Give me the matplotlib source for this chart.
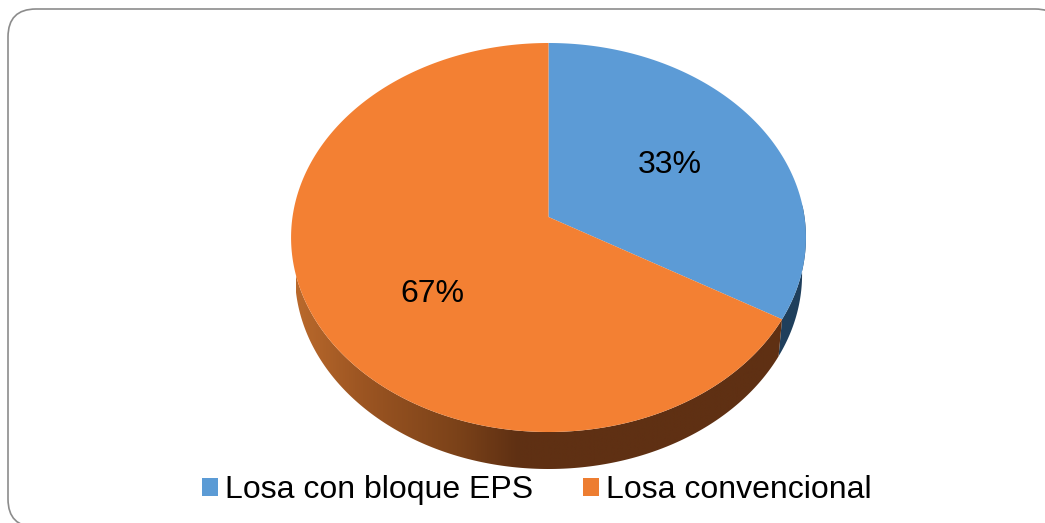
import matplotlib
matplotlib.use('Agg')
import matplotlib.pyplot as plt
from matplotlib.colors import LinearSegmentedColormap
from matplotlib.patches import FancyBboxPatch, Patch, Polygon
import numpy as np

categories = ['Losa con bloque EPS', 'Losa convencional']
values = [33.4, 66.6]
top_colors = ['#5c9bd6', '#f38033']
legend_colors = ['#5b9bd5', '#ed7d31']
label_pos = [(670, 165), (432, 294)]

plt.rcParams['font.family'] = ['Liberation Sans', 'DejaVu Sans']

# perspective of the pie disc, fitted to the picture in pixels
CX, APEX_Y, R = 548.5, 217.0, 256.0
K, A = 0.1054, -169.47
DEPTH, RIM_SCALE = 37.0, 0.985


def project(frac, dy=0.0, sx=1.0):
    t = 2 * np.pi * np.asarray(frac)
    u, v = np.sin(t), np.cos(t)
    w = 1 + K * v
    return np.column_stack([CX + sx * R * u / w, (A * v + APEX_Y) / w + dy])


def rim(f0, f1):
    f = np.linspace(f0, f1, 200)
    return np.vstack([project(f), project(f[::-1], dy=DEPTH, sx=RIM_SCALE)])


fig = plt.figure(figsize=(10.45, 5.23), dpi=100, facecolor='white')
ax = fig.add_axes([0, 0, 1, 1])
ax.set_xlim(0, 1045)
ax.set_ylim(523, 0)
ax.axis('off')

# chart frame, runs off the right and bottom of the picture
ax.add_patch(FancyBboxPatch((8, 9), 1055, 518, boxstyle='round,pad=0,rounding_size=28',
                            fc='white', ec='#8c8c8c', lw=1.2, zorder=0))

fracs = np.cumsum([0] + values) / sum(values)

# side wall
ax.add_patch(Polygon(rim(0.24, fracs[1]), closed=True, fc='#1f3f5c', ec='none', zorder=1))
side = Polygon(rim(fracs[1], 0.77), closed=True, fc='none', ec='none', zorder=2)
ax.add_patch(side)
cmap = LinearSegmentedColormap.from_list('side', [(0, '#b9692c'), (0.13, '#9c5522'),
                                                  (0.32, '#7b4219'), (0.44, '#5f3013'),
                                                  (1, '#5f3013')])
im = ax.imshow(np.linspace(0, 1, 512)[None, :], cmap=cmap, aspect='auto',
               extent=(296, 800, 480, 260), zorder=2)
im.set_clip_path(side)

# top face
for i, c in enumerate(top_colors):
    f = np.linspace(fracs[i], fracs[i + 1], 300)
    pts = np.vstack([[CX, APEX_Y], project(f)])
    ax.add_patch(Polygon(pts, closed=True, fc=c, ec='none', zorder=3))

for v, p in zip(values, label_pos):
    ax.text(p[0], p[1], f'{v:.0f}%', fontsize=23, ha='center', va='center', color='black', zorder=4)

handles = [Patch(fc=c, ec='none', label=n) for c, n in zip(legend_colors, categories)]
ax.legend(handles=handles, ncol=2, frameon=False, fontsize=23, loc='center',
          bbox_to_anchor=(537 / 1045, 1 - 490 / 523), handlelength=0.5, handleheight=0.5,
          handletextpad=0.22, columnspacing=1.55, borderpad=0, borderaxespad=0)

fig.savefig('out.png', dpi=100)
